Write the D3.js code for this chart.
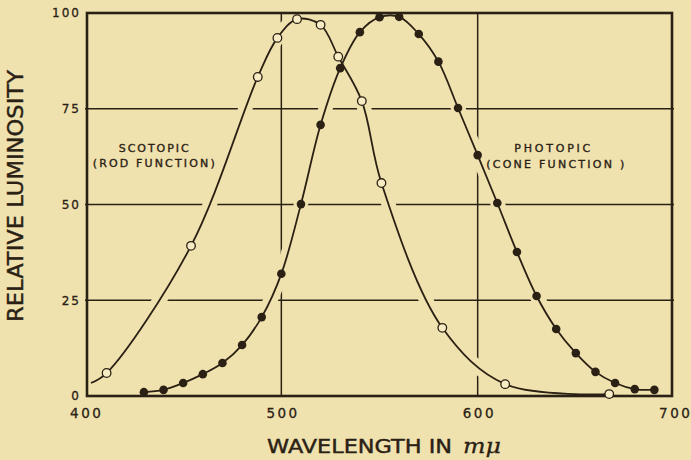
<meta charset="UTF-8">
<head>
  <script src="https://d3js.org/d3.v7.min.js"></script>
  <style>
    body { margin: 0; background: #f0e2af; }
    text { font-family: "DejaVu Sans", sans-serif; fill: #2a2114; }
  </style>
</head>
<body>
  <svg id="svg" width="691" height="460"></svg>
  <script>
    // values
    const xTicks = [400, 500, 600, 700];
    const yTicks = [0, 25, 50, 75, 100];
    const gridX = [500, 600];
    const gridY = [25, 50, 75];

    // photopic (cone function), filled dots
    const photopicWl = [430, 440, 450, 460, 470, 480, 490, 500, 510, 520, 530, 540, 550, 560,
                        570, 580, 590, 600, 610, 620, 630, 640, 650, 660, 670, 680, 690];
    const photopicVal = [1.0, 1.6, 3.4, 5.7, 8.6, 13.3, 20.6, 31.9, 50.1, 70.8, 85.6, 95.0, 98.9, 99.0,
                         94.5, 87.3, 75.2, 62.9, 50.4, 37.6, 26.1, 17.5, 11.2, 6.3, 3.4, 1.8, 1.6];

    // scotopic (rod function), open dots
    const scotopicWl = [411, 454, 488, 498, 508, 520, 529, 541, 551, 582, 614, 667];
    const scotopicVal = [6.0, 39.2, 83.3, 93.5, 98.4, 96.9, 88.6, 77.0, 55.6, 17.8, 3.1, 0.5];
    // drawn curve starts a little left of the first measured point
    const scotopicLineStart = [403, 3.4];

    const labels = ["SCOTOPIC", "(ROD FUNCTION)", "PHOTOPIC", "(CONE FUNCTION )"];

    const ink = "#2a2114", paper = "#f0e2af";

    const svg = d3.select("#svg");
    const x = d3.scaleLinear().domain([400, 700]).range([85, 674]);
    const y = d3.scaleLinear().domain([0, 100]).range([396, 13]);

    const photopic = photopicWl.map((w, i) => [w, photopicVal[i]]);
    const scotopic = scotopicWl.map((w, i) => [w, scotopicVal[i]]);

    const line = d3.line().x(d => x(d[0])).y(d => Math.min(y(d[1]), y(0)))
      .curve(d3.curveCatmullRom.alpha(0.5));

    // grid
    const grid = svg.append("g").attr("stroke", ink).attr("stroke-width", 1.5);
    grid.selectAll(".gy").data(gridY).enter().append("line")
      .attr("x1", x(400)).attr("x2", x(700))
      .attr("y1", d => y(d)).attr("y2", d => y(d));
    grid.selectAll(".gx").data(gridX).enter().append("line")
      .attr("y1", y(0)).attr("y2", y(100))
      .attr("x1", d => x(d)).attr("x2", d => x(d));

    const curves = [[scotopicLineStart].concat(scotopic), photopic];

    // paper halo so grid lines break where a curve crosses them
    svg.append("g").selectAll("path").data(curves).enter().append("path")
      .attr("d", line).attr("fill", "none")
      .attr("stroke", paper).attr("stroke-width", 14);

    svg.append("g").selectAll("path").data(curves).enter().append("path")
      .attr("d", line).attr("fill", "none")
      .attr("stroke", ink).attr("stroke-width", 1.8);

    // frame
    svg.append("rect")
      .attr("x", x(400) + 2).attr("y", y(100))
      .attr("width", x(700) - x(400) - 4).attr("height", y(0) - y(100))
      .attr("fill", "none").attr("stroke", ink).attr("stroke-width", 2.6);

    // markers
    svg.append("g").selectAll("circle").data(scotopic).enter().append("circle")
      .attr("cx", d => x(d[0])).attr("cy", d => y(d[1])).attr("r", 4.3)
      .attr("fill", "#f7ecc4").attr("stroke", ink).attr("stroke-width", 1.3);
    svg.append("g").selectAll("circle").data(photopic).enter().append("circle")
      .attr("cx", d => x(d[0])).attr("cy", d => y(d[1])).attr("r", 4.3)
      .attr("fill", ink);

    // axes (labels only)
    const yAxis = svg.append("g").attr("transform", `translate(${x(400) + 2},0)`)
      .call(d3.axisLeft(y).tickValues(yTicks).tickSize(0).tickPadding(8).tickFormat(d3.format("d")));
    yAxis.select(".domain").remove();
    yAxis.selectAll("text")
      .attr("font-size", 12).attr("letter-spacing", 2).attr("dx", 2)
      .attr("stroke", ink).attr("stroke-width", 0.3)
      .style("font-family", "DejaVu Sans").attr("fill", ink);

    const xAxis = svg.append("g").attr("transform", `translate(0,${y(0)})`)
      .call(d3.axisBottom(x).tickValues(xTicks).tickSize(0).tickPadding(12).tickFormat(d3.format("d")));
    xAxis.select(".domain").remove();
    xAxis.selectAll("text")
      .attr("font-size", 13.5).attr("letter-spacing", 2.5).attr("dx", 1.25)
      .attr("stroke", ink).attr("stroke-width", 0.3)
      .style("font-family", "DejaVu Sans").attr("fill", ink);

    // curve labels
    const ann = svg.append("g").attr("font-size", 11).attr("text-anchor", "middle")
      .attr("stroke", ink).attr("stroke-width", 0.35);
    ann.append("text").attr("x", x(435)).attr("y", 152)
      .attr("textLength", 70).attr("lengthAdjust", "spacing").text(labels[0]);
    ann.append("text").attr("x", x(435)).attr("y", 167)
      .attr("textLength", 122).attr("lengthAdjust", "spacing").text(labels[1]);
    ann.append("text").attr("x", x(638)).attr("y", 152)
      .attr("textLength", 76).attr("lengthAdjust", "spacing").text(labels[2]);
    ann.append("text").attr("x", x(639.5)).attr("y", 168)
      .attr("textLength", 138).attr("lengthAdjust", "spacing").text(labels[3]);

    // axis titles
    svg.append("text")
      .attr("transform", "translate(23,196) rotate(-90)")
      .attr("text-anchor", "middle").attr("font-size", 22)
      .attr("stroke", ink).attr("stroke-width", 0.4)
      .attr("textLength", 252).attr("lengthAdjust", "spacingAndGlyphs")
      .text("RELATIVE LUMINOSITY");

    svg.append("text").attr("x", 267).attr("y", 453)
      .attr("font-size", 20).attr("stroke", ink).attr("stroke-width", 0.45)
      .attr("textLength", 185).attr("lengthAdjust", "spacingAndGlyphs")
      .text("WAVELENGTH IN");
    svg.append("text").attr("x", 463).attr("y", 453)
      .attr("font-size", 21).style("font-family", "DejaVu Serif")
      .attr("font-style", "italic").attr("stroke", ink).attr("stroke-width", 0.3)
      .attr("textLength", 38).attr("lengthAdjust", "spacingAndGlyphs")
      .text("mμ");
  </script>
</body>
